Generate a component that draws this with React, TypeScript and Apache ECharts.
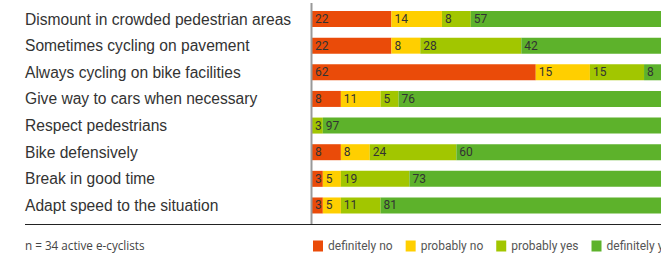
import React, { useEffect, useRef } from "react";
import * as echarts from "echarts";

const categories = [
  "Dismount in crowded pedestrian areas",
  "Sometimes cycling on pavement",
  "Always cycling on bike facilities",
  "Give way to cars when necessary",
  "Respect pedestrians",
  "Bike defensively",
  "Break in good time",
  "Adapt speed to the situation",
];
const definitelyNo = [22, 22, 62, 8, 0, 8, 3, 3];
const probablyNo = [14, 8, 15, 11, 0, 8, 5, 5];
const probablyYes = [8, 28, 15, 5, 3, 24, 19, 11];
const definitelyYes = [57, 42, 8, 76, 97, 60, 73, 81];
const seriesNames = ["definitely no", "probably no", "probably yes", "definitely yes"];
const colors = ["#EA4B09", "#FFCF00", "#A2C600", "#5DB22B"];
const footnote = "n = 34 active e-cyclists";

export default function App() {
  const ref = useRef<HTMLDivElement>(null);
  useEffect(() => {
    document.body.style.margin = "0";
    const chart = echarts.init(ref.current!, null, { renderer: "svg" });
    const datasets = [definitelyNo, probablyNo, probablyYes, definitelyYes];
    chart.setOption({
      animation: false,
      grid: { left: 312, right: 0, top: 5.7, bottom: 38.2, containLabel: false },
      xAxis: {
        type: "value",
        min: 0,
        max: 96.7,
        show: false,
      },
      yAxis: {
        type: "category",
        data: categories,
        inverse: true,
        axisLine: { show: false },
        axisTick: { show: false },
        splitLine: { show: false },
        axisLabel: {
          align: "left",
          margin: 287,
          fontSize: 15.6,
          color: "#333",
          fontFamily: "Liberation Sans, Arial, sans-serif",
        },
      },
      legend: {
        left: 313,
        top: 240,
        width: 600,
        padding: 0,
        icon: "rect",
        itemWidth: 10,
        itemHeight: 11,
        itemGap: 13,
        textStyle: { fontSize: 12, color: "#555", fontFamily: "Roboto, sans-serif" },
        data: seriesNames,
      },
      series: datasets.map((d, i) => ({
        name: seriesNames[i],
        type: "bar",
        stack: "total",
        barWidth: 16,
        clip: false,
        data: d,
        itemStyle: { color: colors[i] },
        label: {
          show: true,
          position: "insideLeft",
          distance: 3,
          fontSize: 12,
          color: "#333",
          fontFamily: "Roboto, sans-serif",
          formatter: (p: any) => (p.value > 0 ? String(p.value) : ""),
        },
      })),
      graphic: [
        {
          type: "line",
          shape: { x1: 311.5, y1: 3, x2: 311.5, y2: 224 },
          style: { stroke: "#999", lineWidth: 2 },
          z: 100,
        },
        {
          type: "line",
          shape: { x1: 25, y1: 224.5, x2: 661, y2: 224.5 },
          style: { stroke: "#222", lineWidth: 1.2 },
          z: 100,
        },
        {
          type: "text",
          left: 25,
          top: 239,
          style: {
            text: footnote,
            fontSize: 11.7,
            fill: "#444",
            fontFamily: "Open Sans, sans-serif",
          },
        },
      ],
    });
    return () => chart.dispose();
  }, []);
  return (
    <div
      ref={ref}
      style={{ position: "absolute", left: 0, top: 0, width: 661, height: 257 }}
    />
  );
}
